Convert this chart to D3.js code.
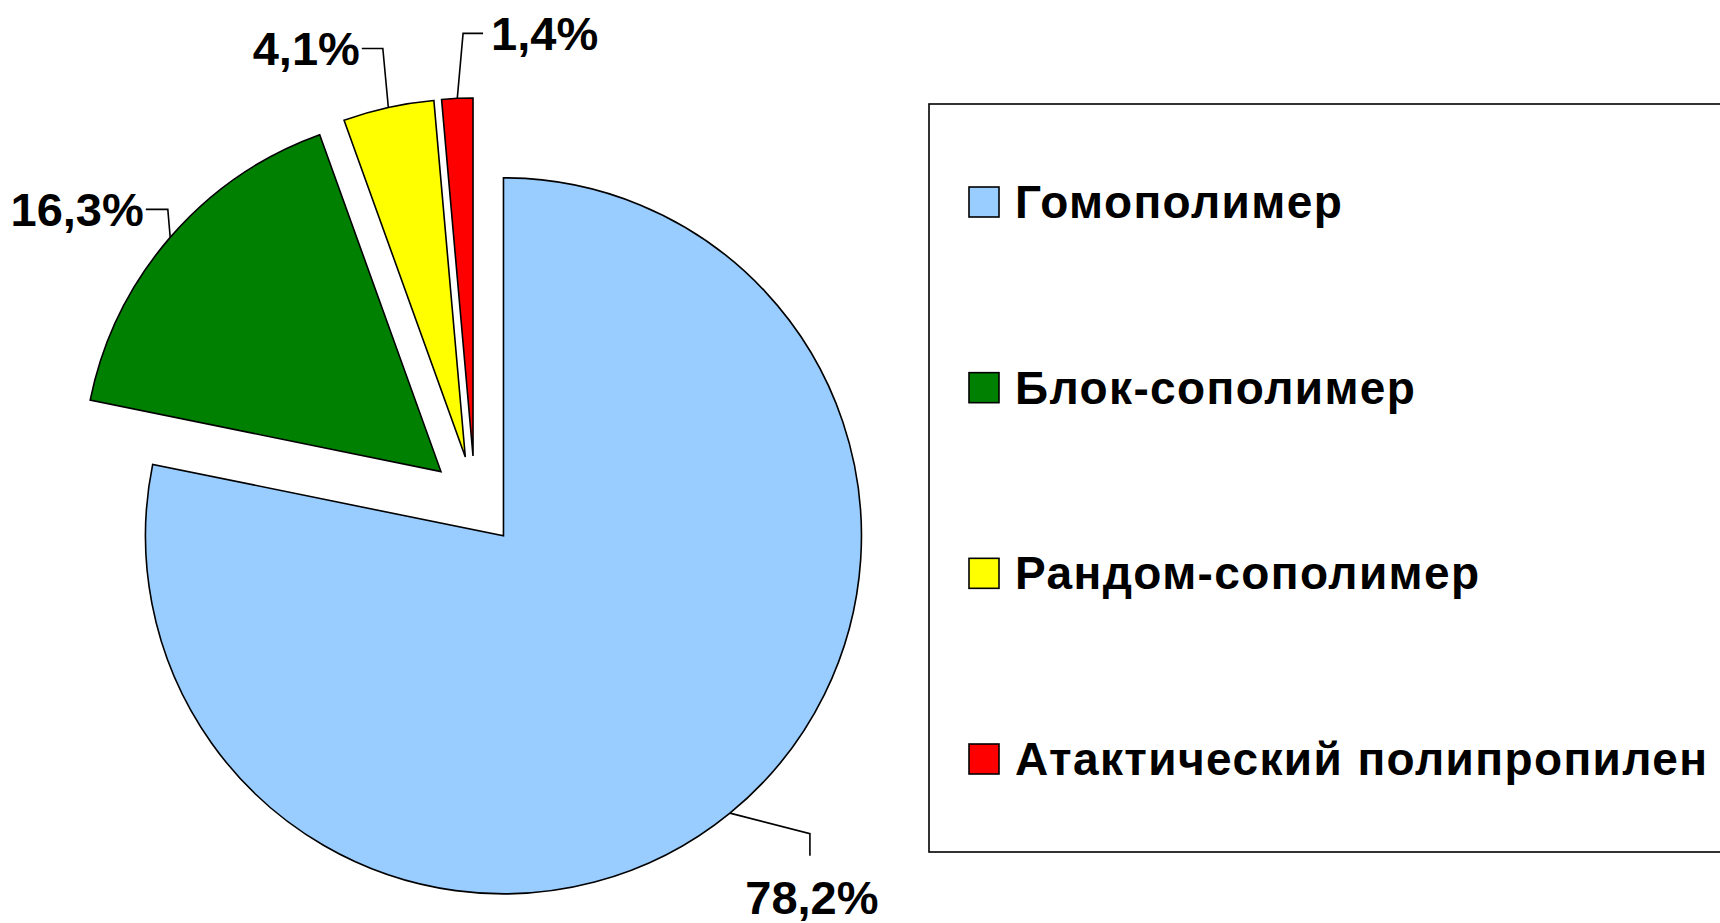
<!DOCTYPE html>
<html><head><meta charset="utf-8">
<script src="https://cdn.jsdelivr.net/npm/d3@7"></script>
<style>
html,body{margin:0;padding:0;background:#fff;}
svg{display:block;}
text{font-family:"Liberation Sans",Arial,sans-serif;font-weight:bold;fill:#000;}
</style></head>
<body>
<script>
const categories = ["Гомополимер", "Блок-сополимер", "Рандом-сополимер", "Атактический полипропилен"];
const values = [78.2, 16.3, 4.1, 1.4];
const valueLabels = ["78,2%", "16,3%", "4,1%", "1,4%"];
const colors = ["#99CCFF", "#008000", "#FFFF00", "#FF0000"];

const W = 1720, H = 923;
const cx = 475, cy = 501, R = 358, explode = 45;

// label leader layout (offset of elbow from arc midpoint, then tail direction)
const leaderLayout = [
  {dx: 80, dy: 20.5, tx: 0, ty: 22, anchor: "middle", lx: 2, ly: 58},
  {dx: -2.4, dy: -28, tx: -22, ty: 0, anchor: "end", lx: -2, ly: 17},
  {dx: -5.5, dy: -59, tx: -21, ty: 0, anchor: "end", lx: -2, ly: 17},
  {dx: 5.8, dy: -65, tx: 20, ty: 0, anchor: "start", lx: 8, ly: 17}
];

const svg = d3.select("body").append("svg").attr("width", W).attr("height", H);

const pie = d3.pie().sort(null).value(d => d.v).startAngle(0).endAngle(2*Math.PI);
const data = values.map((v, i) => ({v, i}));
const arcs = pie(data);
const arc = d3.arc().innerRadius(0).outerRadius(R);

const g = svg.append("g").attr("transform", `translate(${cx},${cy})`);

function off(a) {
  const m = (a.startAngle + a.endAngle) / 2;
  return [explode * Math.sin(m), -explode * Math.cos(m)];
}

g.selectAll("path.slice").data(arcs).join("path")
  .attr("class", "slice")
  .attr("d", arc)
  .attr("transform", d => { const o = off(d); return `translate(${o[0]},${o[1]})`; })
  .attr("fill", d => colors[d.data.i])
  .attr("stroke", "#000")
  .attr("stroke-width", 1.6)
  .attr("stroke-linejoin", "miter");

// leaders and labels
arcs.forEach((d, k) => {
  const o = off(d);
  const m = (d.startAngle + d.endAngle) / 2;
  const sx = o[0] + R * Math.sin(m), sy = o[1] - R * Math.cos(m);
  const L = leaderLayout[k];
  const ex = sx + L.dx, ey = sy + L.dy;
  const fx = ex + L.tx, fy = ey + L.ty;
  g.append("path")
    .attr("d", d3.line()([[sx, sy], [ex, ey], [fx, fy]]))
    .attr("fill", "none").attr("stroke", "#000").attr("stroke-width", 1.6);
  g.append("text")
    .attr("x", fx + L.lx).attr("y", fy + L.ly)
    .attr("text-anchor", L.anchor)
    .style("font-size", "47px")
    .text(valueLabels[d.data.i]);
});

// legend
const legend = svg.append("g");
legend.append("rect")
  .attr("x", 929).attr("y", 104).attr("width", 820).attr("height", 748)
  .attr("fill", "#fff").attr("stroke", "#000").attr("stroke-width", 1.6);

const ly = d3.scalePoint().domain(categories).range([202, 759]);
const items = legend.selectAll("g.item").data(categories).join("g")
  .attr("class", "item")
  .attr("transform", d => `translate(0,${ly(d)})`);
items.append("rect")
  .attr("x", 969).attr("y", -15).attr("width", 30).attr("height", 30)
  .attr("fill", (d, i) => colors[i]).attr("stroke", "#000").attr("stroke-width", 1.6);
items.append("text")
  .attr("x", 1015).attr("y", 16)
  .style("font-size", "46px")
  .style("letter-spacing", "1.4px")
  .text(d => d);
</script>
</body></html>
